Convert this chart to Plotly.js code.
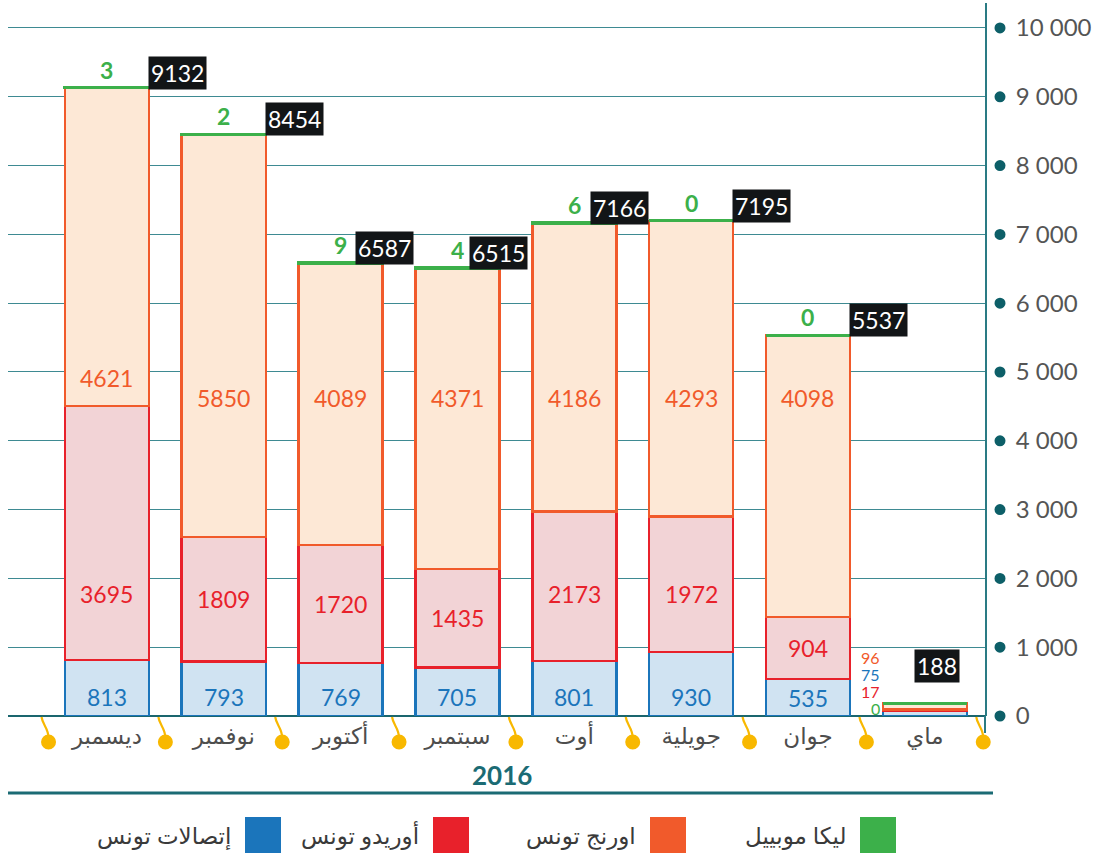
<!DOCTYPE html>
<html>
<head>
<meta charset="utf-8">
<script src="https://cdn.plot.ly/plotly-3.0.1.min.js"></script>
<style>
  html, body { margin: 0; padding: 0; background: #ffffff; }
  #chart { width: 1102px; height: 860px; }
</style>
</head>
<body>
<div id="chart"></div>
<script>
// ---------- DATA ----------
const months = ['ديسمبر', 'نوفمبر', 'أكتوبر', 'سبتمبر', 'أوت', 'جويلية', 'جوان', 'ماي'];
const tunisieTelecom = [813, 793, 769, 705, 801, 930, 535, 75];
const ooredoo = [3695, 1809, 1720, 1435, 2173, 1972, 904, 17];
const orangeTn = [4621, 5850, 4089, 4371, 4186, 4293, 4098, 96];
const lycaMobile = [3, 2, 9, 4, 6, 0, 0, 0];
const totals = [9132, 8454, 6587, 6515, 7166, 7195, 5537, 188];
const yTicks = [0, 1000, 2000, 3000, 4000, 5000, 6000, 7000, 8000, 9000, 10000];
const yearLabel = '2016';
const seriesNames = ['إتصالات تونس', 'أوريدو تونس', 'اورنج تونس', 'ليكا موبييل'];

// ---------- STYLE / LAYOUT CONSTANTS ----------
const W = 1102, H = 860;
const M = { l: 8, r: 117, t: 3, b: 144 };
const PW = W - M.l - M.r, PH = H - M.t - M.b;
const X_RANGE = [-0.847, 7.515];
const Y_MAX = 10363;
const FONT = 'Lato, "DejaVu Sans", sans-serif';
const GRAY = '#4d4d4d';
const TEAL = '#1b6b74';
const colors = {
  blue: { line: '#1b75bb', fill: '#d0e3f2' },
  red: { line: '#e8212b', fill: '#f2d3d6' },
  orange: { line: '#f15a2b', fill: '#fde8d6' },
  green: { line: '#3cb04a', fill: '#3cb04a' }
};
const YELLOW = '#f8b800';
// horizontal placement of the black total box relative to each bar (pixels)
const totalBoxShift = [41, 41, 14, 12, 16, 41, 41, -11];

const px = x => (x - M.l) / PW;           // pixel -> paper x
const py = y => (H - M.b - y) / PH;       // pixel -> paper y
const catToPaper = c => (c - X_RANGE[0]) / (X_RANGE[1] - X_RANGE[0]);

const fmt = v => String(v).replace(/\B(?=(\d{3})+(?!\d))/g, ' ');

// ---------- TRACES ----------
function barTrace(name, vals, c, lw) {
  return {
    type: 'bar', name: name, x: months, y: vals,
    marker: { color: c.fill, line: { color: c.line, width: lw } },
    hoverinfo: 'skip', showlegend: false
  };
}
const traces = [
  barTrace(seriesNames[0], tunisieTelecom, colors.blue, 2.5),
  barTrace(seriesNames[1], ooredoo, colors.red, 2.5),
  barTrace(seriesNames[2], orangeTn, colors.orange, 2.5),
  barTrace(seriesNames[3], lycaMobile, colors.green, 3)
];

// ---------- ANNOTATIONS ----------
const ann = [];
const last = months.length - 1;
months.forEach((m, i) => {
  if (i !== last) {
    ann.push({ x: m, y: Math.min(280, tunisieTelecom[i] / 2), text: String(tunisieTelecom[i]),
      showarrow: false, yanchor: 'middle', font: { family: FONT, size: 23, color: colors.blue.line } });
    ann.push({ x: m, y: Math.min(1770, tunisieTelecom[i] + ooredoo[i] / 2), text: String(ooredoo[i]),
      showarrow: false, yanchor: 'middle', font: { family: FONT, size: 23, color: colors.red.line } });
    ann.push({ x: m, y: Math.max(4620, tunisieTelecom[i] + ooredoo[i] + 400), text: String(orangeTn[i]),
      showarrow: false, yanchor: 'middle', font: { family: FONT, size: 23, color: colors.orange.line } });
    ann.push({ x: m, y: totals[i], yanchor: 'bottom', yshift: 2, text: '<b>' + lycaMobile[i] + '</b>',
      showarrow: false, font: { family: FONT, size: 23, color: colors.green.line } });
    ann.push({ x: m, y: totals[i], yanchor: 'bottom', xanchor: 'left', xshift: totalBoxShift[i], yshift: -2,
      text: String(totals[i]), showarrow: false, bgcolor: '#121517', borderpad: 2,
      font: { family: FONT, size: 23, color: '#ffffff' } });
  } else {
    const side = [
      [orangeTn[i], colors.orange.line, 59],
      [tunisieTelecom[i], colors.blue.line, 42],
      [ooredoo[i], colors.red.line, 25],
      [lycaMobile[i], colors.green.line, 8]
    ];
    side.forEach(s => ann.push({ x: m, y: 0, xanchor: 'right', xshift: -44, yanchor: 'middle', yshift: s[2],
      text: String(s[0]), showarrow: false, borderpad: 0,
      font: { family: FONT, size: 16, color: s[1] } }));
    ann.push({ x: m, y: 0, yanchor: 'bottom', xanchor: 'left', xshift: totalBoxShift[i], yshift: 33,
      text: String(totals[i]), showarrow: false, bgcolor: '#121517', borderpad: 2,
      font: { family: FONT, size: 23, color: '#ffffff' } });
  }
});
// year
ann.push({ xref: 'paper', yref: 'paper', x: px(502), y: py(775), text: '<b>' + yearLabel + '</b>',
  showarrow: false, xanchor: 'center', yanchor: 'middle', font: { family: FONT, size: 26, color: TEAL } });

// legend (custom, RTL: text to the left of the square)
const legendItems = [
  { name: seriesNames[0], color: colors.blue.line, sq: 245 },
  { name: seriesNames[1], color: colors.red.line, sq: 433 },
  { name: seriesNames[2], color: colors.orange.line, sq: 650 },
  { name: seriesNames[3], color: colors.green.line, sq: 860 }
];
const shapes = [];
legendItems.forEach(it => {
  shapes.push({ type: 'rect', xref: 'paper', yref: 'paper', x0: px(it.sq), x1: px(it.sq + 36),
    y0: py(853), y1: py(817), fillcolor: it.color, line: { width: 0 } });
  ann.push({ xref: 'paper', yref: 'paper', x: px(it.sq - 12), y: py(835), xanchor: 'right', yanchor: 'middle',
    text: it.name, showarrow: false, font: { family: FONT, size: 23, color: '#3a3a3a' } });
});

// ---------- SHAPES ----------
// axis line extension below zero
shapes.push({ type: 'line', xref: 'paper', yref: 'paper', x0: 1, x1: 1, y0: py(733), y1: 0,
  line: { color: '#2a7b84', width: 2 } });
// bottom separator
shapes.push({ type: 'line', xref: 'paper', yref: 'paper', x0: 0, x1: px(993), y0: py(793), y1: py(793),
  line: { color: TEAL, width: 3 } });
// right axis tick dots
yTicks.forEach(t => {
  shapes.push({ type: 'circle', xref: 'paper', yref: 'paper', xsizemode: 'pixel', ysizemode: 'pixel',
    xanchor: px(1000), yanchor: t / Y_MAX, x0: -5.5, x1: 5.5, y0: -5.5, y1: 5.5,
    fillcolor: '#0d5f68', line: { width: 0 } });
});
// yellow dividers between months
for (let k = 0; k <= months.length; k++) {
  const xa = catToPaper(k - 0.5);
  shapes.push({ type: 'path', xref: 'paper', yref: 'paper', xsizemode: 'pixel', ysizemode: 'pixel',
    xanchor: xa, yanchor: 0, path: 'M -7,-1 C -6,-9 0,-12 0,-22',
    line: { color: YELLOW, width: 2.2 } });
  shapes.push({ type: 'circle', xref: 'paper', yref: 'paper', xsizemode: 'pixel', ysizemode: 'pixel',
    xanchor: xa, yanchor: 0, x0: -7.5, x1: 7.5, y0: -33.5, y1: -18.5,
    fillcolor: YELLOW, line: { width: 0 } });
}

const layout = {
  width: W, height: H,
  margin: M,
  paper_bgcolor: '#ffffff', plot_bgcolor: '#ffffff',
  barmode: 'stack', bargap: 0.28,
  separators: '. ',
  showlegend: false,
  font: { family: FONT, color: GRAY },
  xaxis: {
    type: 'category', range: X_RANGE, showgrid: false, showline: false, zeroline: false,
    ticks: '', tickfont: { family: FONT, size: 23, color: GRAY }, ticklabelstandoff: 4, fixedrange: true
  },
  yaxis: {
    side: 'right', range: [0, Y_MAX], tickvals: yTicks, ticktext: yTicks.map(fmt),
    showgrid: true, gridcolor: '#3e8a92', gridwidth: 1,
    zeroline: true, zerolinecolor: '#1a666e', zerolinewidth: 2,
    showline: true, linecolor: '#2a7b84', linewidth: 2, mirror: false,
    ticks: '', ticklabelstandoff: 24, tickfont: { family: FONT, size: 24, color: '#555555' }, fixedrange: true
  },
  annotations: ann,
  shapes: shapes
};

Plotly.newPlot('chart', traces, layout, { displayModeBar: false, staticPlot: true });
</script>
</body>
</html>
